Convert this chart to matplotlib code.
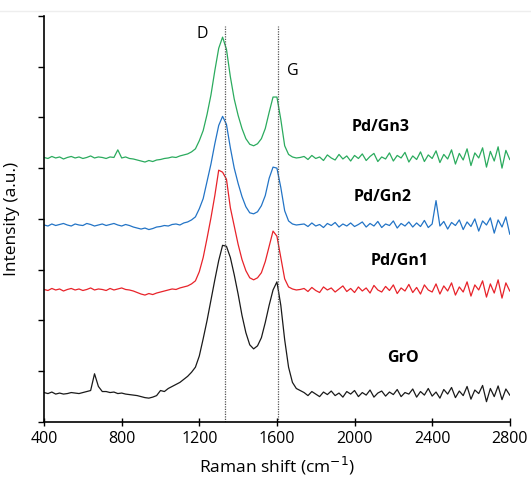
import numpy as np
import matplotlib
matplotlib.use("Agg")
import matplotlib.pyplot as plt
from matplotlib.lines import Line2D

plt.rcParams["font.family"] = ["Open Sans", "DejaVu Sans"]

# Raman shift grid (cm-1), one reading every 20 cm-1
shift = np.arange(400, 2801, 20)

gro = [
    0.58, 0.56, 0.59, 0.55, 0.57, 0.55, 0.56, 0.58, 0.57, 0.56, 0.58, 0.60, 0.62,
    0.95, 0.70, 0.60,
    0.60, 0.58, 0.59, 0.56, 0.57, 0.55, 0.54, 0.53, 0.52, 0.50, 0.48, 0.47, 0.49, 0.52,
    0.62, 0.60, 0.66, 0.70, 0.74, 0.78, 0.84, 0.90, 0.98, 1.08,
    1.30, 1.64, 2.00, 2.40, 2.80, 3.18, 3.48, 3.46, 3.24, 2.90,
    2.52, 2.10, 1.76, 1.52, 1.44, 1.50, 1.66, 1.96, 2.30, 2.60,
    2.76, 2.30, 1.62, 1.08, 0.78, 0.66, 0.62,
    0.58, 0.52, 0.60, 0.55, 0.50, 0.59, 0.54, 0.61, 0.52, 0.57, 0.49, 0.60, 0.55, 0.62,
    0.50, 0.58, 0.53, 0.63, 0.49, 0.57, 0.61, 0.51, 0.59, 0.54,
    0.64, 0.50, 0.58, 0.55, 0.65, 0.49, 0.60, 0.53, 0.66, 0.51,
    0.59, 0.47, 0.64, 0.55, 0.68, 0.48, 0.61, 0.52, 0.70, 0.45,
    0.63, 0.56, 0.72, 0.40, 0.66, 0.50, 0.71, 0.44, 0.65, 0.53,
]

gn1 = [
    2.61, 2.59, 2.63, 2.60, 2.62, 2.58, 2.61, 2.63, 2.60, 2.62,
    2.59, 2.61, 2.64, 2.60, 2.62, 2.61, 2.59, 2.63, 2.60, 2.62,
    2.64, 2.61, 2.60, 2.58, 2.55, 2.52, 2.50, 2.53, 2.51, 2.54,
    2.56, 2.58, 2.60, 2.62, 2.61, 2.64, 2.66, 2.68, 2.72, 2.78,
    2.96, 3.24, 3.62, 4.02, 4.46, 4.96, 4.92, 4.78, 4.22, 3.86,
    3.50, 3.20, 2.98, 2.84, 2.80, 2.84, 2.94, 3.16, 3.46, 3.76,
    3.66, 3.24, 2.82, 2.66, 2.62, 2.60, 2.61,
    2.63, 2.57, 2.65, 2.59, 2.55, 2.66, 2.60, 2.64, 2.56, 2.62, 2.68, 2.57, 2.63, 2.55,
    2.66, 2.58, 2.64, 2.54, 2.69, 2.60, 2.56, 2.67, 2.59, 2.70,
    2.53, 2.64, 2.58, 2.71, 2.55, 2.65, 2.52, 2.70, 2.60, 2.56,
    2.72, 2.52, 2.68, 2.58, 2.74, 2.50, 2.66, 2.56, 2.76, 2.48,
    2.70, 2.60, 2.78, 2.46, 2.72, 2.54, 2.80, 2.44, 2.74, 2.58,
]

gn2 = [
    3.88, 3.86, 3.90, 3.87, 3.89, 3.91, 3.88, 3.86, 3.90, 3.88,
    3.87, 3.91, 3.89, 3.86, 3.88, 3.90, 3.87, 3.89, 3.91, 3.88,
    3.86, 3.89, 3.87, 3.84, 3.82, 3.80, 3.82, 3.79, 3.81, 3.84,
    3.85, 3.87, 3.86, 3.89, 3.90, 3.88, 3.92, 3.94, 3.98, 4.04,
    4.20, 4.40, 4.74, 5.08, 5.48, 5.84, 6.02, 5.86, 5.40, 5.00,
    4.70, 4.44, 4.24, 4.12, 4.10, 4.14, 4.26, 4.46, 4.80, 5.02,
    5.00, 4.62, 4.16, 3.96, 3.90, 3.88, 3.89,
    3.90, 3.85, 3.92, 3.86, 3.89, 3.83, 3.91, 3.87, 3.93, 3.84, 3.90, 3.86, 3.92, 3.85,
    3.89, 3.94, 3.84, 3.91, 3.86, 3.95, 3.83, 3.90, 3.87, 3.96,
    3.82, 3.91, 3.86, 3.94, 3.84, 3.92, 3.85, 3.97, 3.83, 3.90,
    4.36, 3.86, 3.95, 3.80, 3.93, 3.87, 3.98, 3.79, 3.94, 3.85,
    4.00, 3.76, 3.96, 3.88, 4.02, 3.72, 3.98, 3.84, 4.04, 3.70,
]

gn3 = [
    5.21, 5.19, 5.23, 5.20, 5.22, 5.18, 5.21, 5.23, 5.20, 5.22,
    5.19, 5.21, 5.24, 5.20, 5.22, 5.21, 5.19, 5.22, 5.21, 5.36,
    5.20, 5.22, 5.19, 5.18, 5.16, 5.14, 5.12, 5.15, 5.13, 5.16,
    5.17, 5.19, 5.20, 5.22, 5.21, 5.24, 5.26, 5.28, 5.32, 5.38,
    5.54, 5.74, 6.06, 6.44, 6.92, 7.36, 7.58, 7.34, 6.80, 6.36,
    6.04, 5.78, 5.58, 5.47, 5.44, 5.48, 5.58, 5.78, 6.10, 6.40,
    6.40, 5.96, 5.44, 5.27, 5.22, 5.20, 5.21,
    5.23, 5.17, 5.25, 5.19, 5.22, 5.15, 5.26, 5.20, 5.16, 5.27, 5.18, 5.24, 5.14, 5.25,
    5.19, 5.28, 5.15, 5.23, 5.29, 5.13, 5.22, 5.18, 5.30, 5.14,
    5.25, 5.20, 5.31, 5.12, 5.24, 5.17, 5.32, 5.13, 5.26, 5.19,
    5.34, 5.11, 5.27, 5.18, 5.36, 5.08, 5.29, 5.16, 5.38, 5.05,
    5.30, 5.20, 5.40, 5.02, 5.33, 5.14, 5.42, 5.00, 5.35, 5.17,
]

names = ["GrO", "Pd/Gn1", "Pd/Gn2", "Pd/Gn3"]
colors = ["#1a1a1a", "#e8232a", "#2374c6", "#2bab5e"]
label_pos = [(2250, 1.26), (2235, 3.17), (2147, 4.43), (2132, 5.81)]

band_names = ["D", "G"]
band_pos = [1330, 1604]
band_label_pos = [(1214, 7.65), (1683, 6.92)]

fig = plt.figure(figsize=(5.31, 4.79), dpi=100)
ax = fig.add_axes([0.083, 0.119, 0.877, 0.848])

for y, c in zip([gro, gn1, gn2, gn3], colors):
    ax.plot(shift, y, color=c, lw=0.9)

for name, (lx, ly) in zip(names, label_pos):
    ax.text(lx, ly, name, fontsize=11.5, fontweight="bold", ha="center", va="center")

for b in band_pos:
    ax.plot([b, b], [0, 7.8], color="#555555", lw=0.9, ls=(0, (1, 1)))
for name, (lx, ly) in zip(band_names, band_label_pos):
    ax.text(lx, ly, name, fontsize=11.5, ha="center", va="center")

ax.set_xlim(400, 2800)
ax.set_ylim(0, 8)
ax.set_xticks(range(400, 2801, 400))
ax.set_yticks(range(0, 9))
ax.set_yticklabels([])
ax.tick_params(axis="x", direction="inout", length=6, labelsize=11.5, width=1)
ax.tick_params(axis="y", direction="out", length=4, width=1)
for s in ["top", "right"]:
    ax.spines[s].set_visible(False)
for s in ["left", "bottom"]:
    ax.spines[s].set_linewidth(1.2)

ax.set_xlabel("Raman shift (cm$^{-1}$)", fontsize=12.5, labelpad=6)
ax.set_ylabel("Intensity (a.u.)", fontsize=12.5, labelpad=10)

fig.add_artist(Line2D([0, 1], [0.978, 0.978], color="#eeeeee", lw=1))

fig.savefig("out.png", dpi=100)
